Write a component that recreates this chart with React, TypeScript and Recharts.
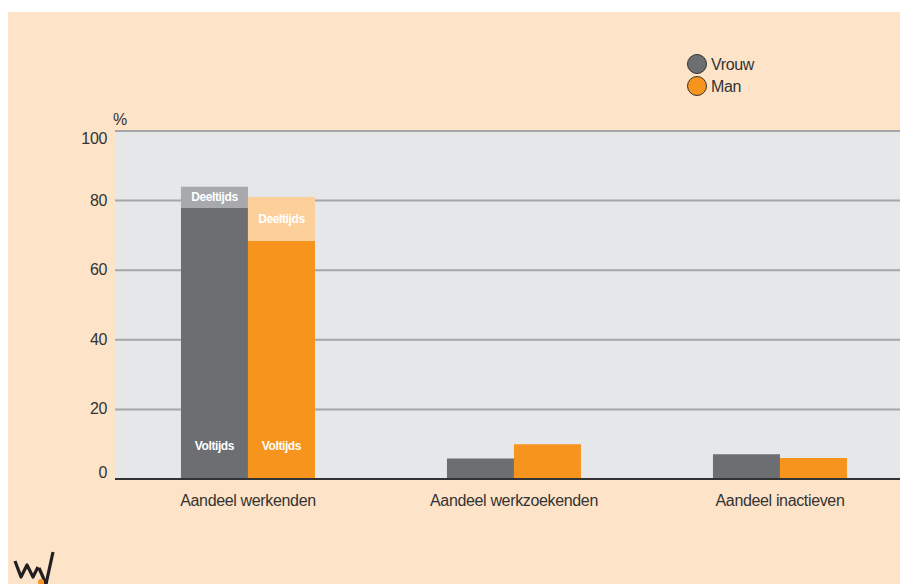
import { BarChart, Bar, XAxis, YAxis, CartesianGrid, LabelList } from 'recharts';

const categories = ['Aandeel werkenden', 'Aandeel werkzoekenden', 'Aandeel inactieven'];
const vrouwVoltijds = [78, 5.9, 7.1];
const vrouwDeeltijds: (number | null)[] = [6, null, null];
const manVoltijds = [68.4, 10, 6];
const manDeeltijds: (number | null)[] = [12.6, null, null];
const yTicks = [0, 20, 40, 60, 80, 100];
const legendItems = [
    { name: 'Vrouw', color: '#6d6e71' },
    { name: 'Man', color: '#f7941e' },
];

const FONT = '"Liberation Sans", Arial, sans-serif';
const PEACH = '#fde3c8';

const data = categories.map((name, i) => ({
    name,
    vrouwVoltijds: vrouwVoltijds[i],
    vrouwDeeltijds: vrouwDeeltijds[i],
    manVoltijds: manVoltijds[i],
    manDeeltijds: manDeeltijds[i],
}));

const YTick = (props: any) => {
    const { x, y, payload } = props;
    // top and bottom labels are pulled inward like in the original
    const shift = payload.value === 100 ? 8 : payload.value === 0 ? -6 : 0;
    return (
        <text x={x} y={y + shift} dy={5} textAnchor="end" fill="#333" fontSize={16} letterSpacing={-0.35} fontFamily={FONT}>
            {payload.value}
        </text>
    );
};

const voltijdsLabel = (props: any) => {
    const { x, y, width, height, index } = props;
    if (index !== 0) return null;
    return (
        <text x={x + width / 2} y={y + height - 33} dy={4} textAnchor="middle" fill="#fff" fontSize={12} fontWeight="bold" letterSpacing={-0.4} fontFamily={FONT}>
            Voltijds
        </text>
    );
};

const deeltijdsLabel = (props: any) => {
    const { x, y, width, height, value } = props;
    if (value === null || value === undefined) return null;
    return (
        <text x={x + width / 2} y={y + height / 2} dy={4} textAnchor="middle" fill="#fff" fontSize={12} fontWeight="bold" letterSpacing={-0.4} fontFamily={FONT}>
            Deeltijds
        </text>
    );
};

export default function App() {
    return (
        <div style={{ position: 'absolute', left: 8, top: 12, width: 892, height: 572, overflow: 'hidden', background: PEACH, fontFamily: FONT }}>
            <BarChart
                width={905}
                height={572}
                data={data}
                margin={{ top: 119, right: 0, left: 47, bottom: 75 }}
                barCategoryGap="24.8%"
                barGap={0}
            >
                <CartesianGrid vertical={false} fill="#e6e7e8" stroke="#a5a6a8" strokeWidth={2} />
                <XAxis
                    dataKey="name"
                    height={30}
                    tickLine={false}
                    axisLine={{ stroke: '#333', strokeWidth: 2 }}
                    tickMargin={10}
                    tick={{ fontSize: 16, fill: '#333', letterSpacing: -0.35, fontFamily: FONT } as any}
                />
                <YAxis
                    width={60}
                    domain={[0, 100]}
                    ticks={yTicks}
                    tickLine={false}
                    axisLine={false}
                    tick={<YTick />}
                    label={(props: any) => {
                        const vb = props.viewBox || {};
                        return (
                            <text x={(vb.x ?? 47) + (vb.width ?? 60) - 2} y={(vb.y ?? 119) - 6} fontSize={16} fill="#333" fontFamily={FONT}>
                                %
                            </text>
                        );
                    }}
                />
                <Bar dataKey="vrouwVoltijds" stackId="vrouw" fill="#6d6e71" isAnimationActive={false}>
                    <LabelList dataKey="vrouwVoltijds" content={voltijdsLabel} />
                </Bar>
                <Bar dataKey="vrouwDeeltijds" stackId="vrouw" fill="#a7a9ac" isAnimationActive={false}>
                    <LabelList dataKey="vrouwDeeltijds" content={deeltijdsLabel} />
                </Bar>
                <Bar dataKey="manVoltijds" stackId="man" fill="#f7941e" isAnimationActive={false}>
                    <LabelList dataKey="manVoltijds" content={voltijdsLabel} />
                </Bar>
                <Bar dataKey="manDeeltijds" stackId="man" fill="#fdd09b" isAnimationActive={false}>
                    <LabelList dataKey="manDeeltijds" content={deeltijdsLabel} />
                </Bar>
            </BarChart>
            {/* legend */}
            <svg style={{ position: 'absolute', left: 678, top: 41 }} width={90} height={46}>
                {legendItems.map((item, i) => (
                    <g key={item.name}>
                        <circle cx={11} cy={11 + i * 22} r={9.5} fill={item.color} stroke="#333" strokeWidth={1} />
                        <text x={25} y={17 + i * 22} fontSize={16} letterSpacing={-0.35} fill="#333" fontFamily={FONT}>{item.name}</text>
                    </g>
                ))}
            </svg>
            {/* logo */}
            <svg style={{ position: 'absolute', left: 0, top: 530 }} width={60} height={42}>
                <polyline points="7,19 13,35 19,23 25,35 30,25" fill="none" stroke="#231f20" strokeWidth={3.2} strokeLinejoin="round" />
                <line x1={38} y1={42} x2={45} y2={10} stroke="#231f20" strokeWidth={3.2} />
                <line x1={31} y1={26} x2={38} y2={42} stroke="#231f20" strokeWidth={3.2} />
                <circle cx={33} cy={40} r={3} fill="#f7941e" />
            </svg>
        </div>
    );
}
